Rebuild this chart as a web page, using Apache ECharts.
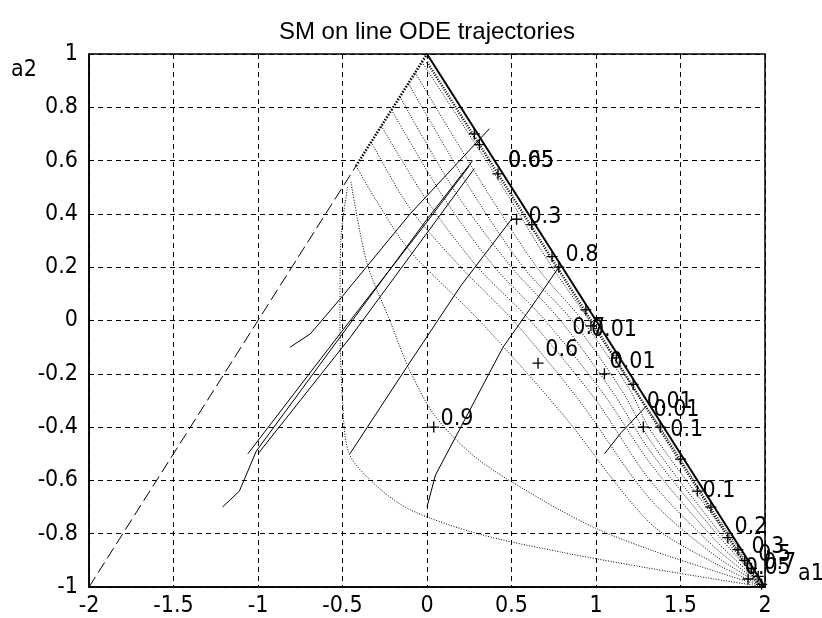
<!DOCTYPE html>
<html><head><meta charset="utf-8">
<script src="https://cdn.jsdelivr.net/npm/echarts@6/dist/echarts.min.js"></script>
<style>html,body{margin:0;padding:0;background:#fff}#c{width:822px;height:618px}</style>
</head><body><div id="c"></div>
<script>
// ---- boundary of the triangle ----
const leftEdgeDashed = [[-2,-1],[-0.42,0.58]];
const leftEdgeTop = [[-0.42,0.58],[0,1]];
const rightEdge = [[0,1],[2,-1]];
const rightEdgeInner = [[0,0.97],[1.97,-1]];

// ---- dotted curves converging to (2,-1) ----
const dot1 = [[-0.47,0.5],[-0.51,0.3],[-0.515,0.0],[-0.5,-0.3],[-0.46,-0.5],[-0.3,-0.62],[-0.1,-0.71],[0.3,-0.8],[0.8,-0.87],[1.32,-0.93],[1.7,-0.97],[2,-1]];
const dot2 = [[-0.45,0.52],[-0.355,0.215],[-0.22,0.0],[-0.1,-0.19],[0.05,-0.36],[0.3,-0.52],[0.7,-0.68],[1.0,-0.78],[1.32,-0.86],[1.7,-0.94],[2,-1]];
const dot3 = [[-0.42,0.58],[-0.3,0.45],[-0.1,0.26],[0.31,0.0],[0.8,-0.35],[1.32,-0.76],[1.7,-0.91],[2,-1]];
const dot4 = [[-0.33,0.67],[-0.1,0.42],[0.2,0.2],[0.51,0.0],[0.9,-0.3],[1.32,-0.67],[1.7,-0.88],[2,-1]];
const dot5 = [[-0.27,0.73],[0.0,0.45],[0.3,0.2],[0.61,0.0],[1.0,-0.3],[1.32,-0.6],[1.7,-0.85],[2,-1]];
const dot6 = [[-0.21,0.79],[0.1,0.46],[0.4,0.2],[0.70,0.0],[1.05,-0.28],[1.32,-0.535],[1.7,-0.82],[2,-1]];
const dot7 = [[-0.16,0.84],[0.17,0.48],[0.5,0.2],[0.79,0.0],[1.1,-0.27],[1.32,-0.49],[1.7,-0.79],[2,-1]];
const dot8 = [[-0.11,0.89],[0.25,0.5],[0.57,0.2],[0.86,0.0],[1.15,-0.26],[1.32,-0.45],[1.7,-0.77],[2,-1]];
const dot9 = [[-0.07,0.93],[0.32,0.52],[0.65,0.2],[0.92,0.0],[1.2,-0.26],[1.32,-0.41],[1.7,-0.74],[2,-1]];
const dot10 = [[-0.03,0.97],[0.4,0.55],[0.72,0.22],[0.96,0.0],[1.25,-0.28],[1.4,-0.42],[1.7,-0.72],[2,-1]];

// ---- solid trajectories ----
const traj1 = [[-1.21,-0.70],[-1.11,-0.64],[-1.01,-0.49],[-0.5,-0.05],[0.0,0.38],[0.27,0.6]];
const traj2 = [[-1.06,-0.50],[-0.515,-0.05],[0.0,0.37],[0.25,0.58]];
const traj3 = [[-1.0,-0.5],[-0.45,-0.06],[0.28,0.57]];
const traj4 = [[-0.81,-0.1],[-0.69,-0.05],[-0.515,0.08],[-0.1,0.40],[0.12,0.55],[0.37,0.72]];
const traj5 = [[-0.456,-0.5],[-0.12,-0.175],[0.2,0.13],[0.5,0.38]];
const traj6 = [[0.0,-0.7],[0.05,-0.58],[0.2,-0.4],[0.45,-0.1],[0.65,0.08],[0.78,0.2]];
const traj7 = [[1.05,-0.5],[1.15,-0.42],[1.3,-0.32]];

// ---- '+' end markers ----
const plusA1 = [0.31,0.42,0.53,0.78,0.657,0.97,1.05,1.28,0.04,1.60,1.78,1.88,1.92,1.90,1.96,1.98,0.28,0.62,0.74,0.94,1.12,1.22,1.38,1.5,1.68,1.84];
const plusA2 = [0.66,0.55,0.38,0.2,-0.16,-0.02,-0.2,-0.40,-0.4,-0.64,-0.815,-0.9,-0.93,-0.97,-0.96,-0.99,0.7,0.36,0.24,0.04,-0.14,-0.24,-0.4,-0.52,-0.7,-0.86];

// ---- text annotations ----
const labelText = ["0.05","0.65","0.3","0.8","0.7","0.01","0.6","0.01","0.01","0.01","0.1","0.9","0.1","0.2","0.3","0.5","0.7","0.05"];
const labelA1 = [0.48,0.48,0.6,0.82,0.86,0.97,0.70,1.08,1.30,1.34,1.44,0.08,1.63,1.82,1.92,1.96,1.99,1.88];
const labelA2 = [0.6,0.6,0.39,0.245,-0.03,-0.035,-0.11,-0.155,-0.306,-0.336,-0.41,-0.37,-0.64,-0.775,-0.85,-0.88,-0.91,-0.93];

const FONT = "'Liberation Sans Narrow','DejaVu Sans Condensed','Liberation Sans',Arial,sans-serif";
const chart = echarts.init(document.getElementById('c'), null, {renderer:'canvas'});

function lineSeries(data, style, extra){
  return Object.assign({type:'line', data:data, showSymbol:false, symbol:'none', silent:true,
    animation:false, clip:false, lineStyle:Object.assign({color:'#000', width:1, opacity:1}, style)}, extra||{});
}
const series = [];
series.push(lineSeries(leftEdgeDashed, {type:[12,5], width:1}));
series.push(lineSeries(leftEdgeTop, {type:[1.5,1.5], width:2.5}));
series.push(lineSeries(rightEdge, {width:2}));
series.push(lineSeries(rightEdgeInner, {type:[1,1.5], width:2.5}));
[dot1,dot2,dot3,dot4,dot5,dot6,dot7,dot8,dot9,dot10].forEach(d=>{
  series.push(lineSeries(d, {type:[1,1.6], width:1}, {smooth:0.3}));
});
[traj1,traj2,traj3,traj4,traj5,traj6,traj7].forEach(d=>{
  series.push(lineSeries(d, {width:1}));
});
series.push({type:'scatter', silent:true, animation:false,
  symbol:'path://M0,4.4H10V5.6H0Z M4.4,0H5.6V10H4.4Z', symbolSize:11,
  itemStyle:{color:'#000', opacity:1},
  data: plusA1.map((x,i)=>[x, plusA2[i]])});
series.push({type:'scatter', silent:true, animation:false, symbolSize:0,
  itemStyle:{opacity:1, color:'#000'},
  data: labelText.map((t,i)=>({name:t, value:[labelA1[i], labelA2[i]]})),
  label:{show:true, position:'right', distance:0, formatter:p=>p.name,
    color:'#000', opacity:1, textBorderWidth:0, fontFamily:FONT, fontSize:23}});

chart.setOption({
  backgroundColor:'#fff',
  animation:false,
  grid:{left:89, right:57, top:54, bottom:31, show:true, borderColor:'#000', borderWidth:1.5, backgroundColor:'transparent'},
  xAxis:{type:'value', min:-2, max:2, interval:0.5,
    axisLine:{show:true, onZero:false, lineStyle:{color:'#000', width:1.5}},
    axisTick:{show:false},
    axisLabel:{color:'#000', fontFamily:FONT, fontSize:23, margin:8},
    splitLine:{show:true, lineStyle:{color:'#000', type:[5,4], width:1}}},
  yAxis:{type:'value', min:-1, max:1, interval:0.2,
    axisLine:{show:true, onZero:false, lineStyle:{color:'#000', width:1.5}},
    axisTick:{show:false},
    axisLabel:{color:'#000', fontFamily:FONT, fontSize:23, margin:11},
    splitLine:{show:true, lineStyle:{color:'#000', type:[5,4], width:1}}},
  graphic:[
    {type:'text', x:427, y:32, style:{text:'SM on line ODE trajectories', fill:'#000', font:"24px 'Liberation Sans',Arial,sans-serif", textAlign:'center', textVerticalAlign:'middle'}},
    {type:'text', x:11, y:70, style:{text:'a2', fill:'#000', font:"23px "+FONT, textAlign:'left', textVerticalAlign:'middle'}},
    {type:'text', x:798, y:574, style:{text:'a1', fill:'#000', font:"23px "+FONT, textAlign:'left', textVerticalAlign:'middle'}}
  ],
  series:series
});
</script></body></html>
